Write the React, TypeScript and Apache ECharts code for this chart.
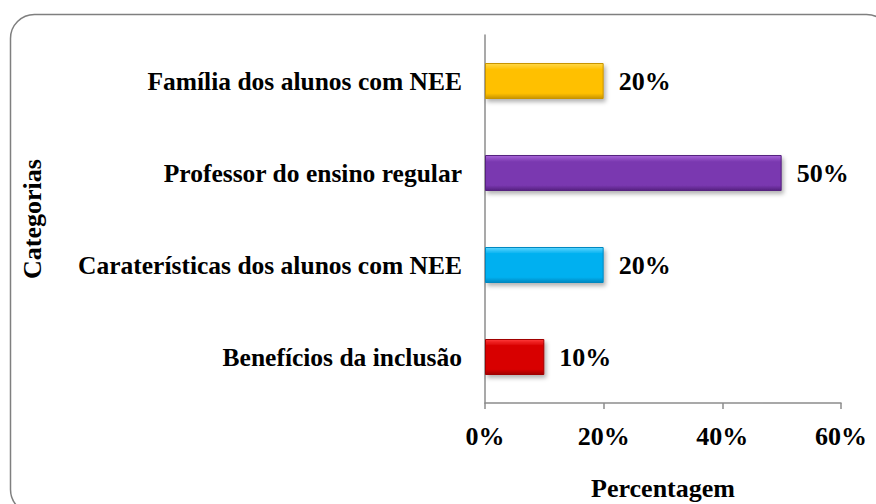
import React, { useEffect, useRef } from "react";
import * as echarts from "echarts";

const categories = [
  "Benefícios da inclusão",
  "Caraterísticas dos alunos com NEE",
  "Professor do ensino regular",
  "Família dos alunos com NEE",
];
const values = [10, 20, 50, 20];
const barColors = [
  ["#ff3a3a", "#d80000", "#a00000"],
  ["#5fd6ff", "#00b0f0", "#0088c0"],
  ["#a866d8", "#7a38b0", "#55207f"],
  ["#ffd84a", "#ffc000", "#c89400"],
];
const xTicks = [0, 20, 40, 60];

export default function App() {
  const ref = useRef<HTMLDivElement>(null);
  useEffect(() => {
    if (!ref.current) return;
    const chart = echarts.init(ref.current, null, { renderer: "svg" });
    const font = "'Liberation Serif', 'Times New Roman', serif";
    chart.setOption({
      animation: false,
      textStyle: { fontFamily: font },
      graphic: [
        {
          type: "rect",
          left: 8,
          top: 12,
          shape: { width: 880, height: 499, r: 24 },
          style: { fill: "none", stroke: "#7f7f7f", lineWidth: 1.5 },
          z: -1,
        },
      ],
      grid: {
        left: 485,
        right: 35,
        top: 35,
        bottom: 101,
        containLabel: false,
        outerBoundsMode: "none",
      },
      xAxis: {
        type: "value",
        min: xTicks[0],
        max: xTicks[xTicks.length - 1],
        interval: 20,
        name: "Percentagem",
        nameLocation: "middle",
        nameGap: 72,
        nameTextStyle: { fontFamily: font, fontSize: 26, fontWeight: "bold", color: "#000" },
        axisLine: { show: true, lineStyle: { color: "#8c8c8c", width: 1.5 } },
        axisTick: { show: true, length: 6, lineStyle: { color: "#8c8c8c", width: 1.5 } },
        splitLine: { show: false },
        axisLabel: {
          margin: 20,
          fontFamily: font,
          fontSize: 26,
          fontWeight: "bold",
          color: "#000",
          formatter: "{value}%",
        },
      },
      yAxis: {
        type: "category",
        data: categories,
        name: "Categorias",
        nameLocation: "middle",
        nameGap: 440,
        nameRotate: 90,
        nameTextStyle: { fontFamily: font, fontSize: 26, fontWeight: "bold", color: "#000" },
        axisLine: { show: true, lineStyle: { color: "#8c8c8c", width: 1.5 } },
        axisTick: { show: false },
        axisLabel: {
          margin: 23,
          fontFamily: font,
          fontSize: 25.5,
          fontWeight: "bold",
          color: "#000",
        },
      },
      series: [
        {
          type: "bar",
          barWidth: 36,
          data: values.map((v, i) => ({
            value: v,
            itemStyle: {
              color: new echarts.graphic.LinearGradient(0, 0, 0, 1, [
                { offset: 0, color: barColors[i][0] },
                { offset: 0.18, color: barColors[i][1] },
                { offset: 0.85, color: barColors[i][1] },
                { offset: 1, color: barColors[i][2] },
              ]),
              borderColor: barColors[i][2],
              borderWidth: 1,
              shadowColor: "rgba(0,0,0,0.3)",
              shadowBlur: 4,
              shadowOffsetX: 2,
              shadowOffsetY: 3,
            },
          })),
          label: {
            show: true,
            position: "right",
            distance: 15,
            formatter: "{c}%",
            fontFamily: font,
            fontSize: 26,
            fontWeight: "bold",
            color: "#000",
          },
        },
      ],
    });
    return () => chart.dispose();
  }, []);
  return (
    <div
      ref={ref}
      style={{ position: "fixed", left: 0, top: 0, width: 876, height: 504, background: "#fff" }}
    />
  );
}
